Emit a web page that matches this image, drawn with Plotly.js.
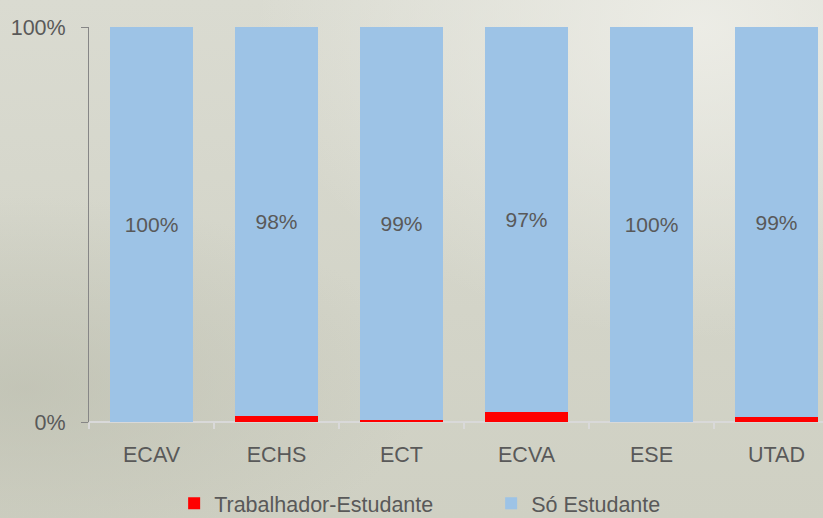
<!DOCTYPE html>
<html>
<head>
<meta charset="utf-8">
<script src="https://cdn.plot.ly/plotly-3.0.1.min.js"></script>
<style>
  html, body { margin: 0; padding: 0; }
  body {
    width: 823px; height: 518px; overflow: hidden;
    background:
      radial-gradient(ellipse at 85% 5%, rgba(238,238,232,0.9) 0%, rgba(238,238,232,0) 45%),
      radial-gradient(ellipse at 3% 75%, rgba(185,187,172,0.6) 0%, rgba(185,187,172,0) 35%),
      linear-gradient(180deg, #dadbd1 0%, #d3d4c8 60%, #cfd0c3 100%);
  }
  #chart { width: 823px; height: 518px; }
</style>
</head>
<body>
<div id="chart"></div>
<script>
const categories = ['ECAV', 'ECHS', 'ECT', 'ECVA', 'ESE', 'UTAD'];
const trabalhadorEstudante = [0, 1.6, 0.6, 2.6, 0, 1.2];
const soEstudante = [100, 98.4, 99.4, 97.4, 100, 98.8];
const yTickVals = [0, 100];
const yTickText = ['0%', '100%'];

const fontFamily = '"Liberation Sans", Arial, sans-serif';
const textGray = '#595959';

const traces = [
  {
    type: 'bar',
    name: 'Trabalhador-Estudante',
    x: categories,
    y: trabalhadorEstudante,
    marker: { color: '#ff0000', line: { width: 0 } },
    hoverinfo: 'skip'
  },
  {
    type: 'bar',
    name: 'Só Estudante',
    x: categories,
    y: soEstudante,
    marker: { color: '#9dc3e6', line: { width: 0 } },
    texttemplate: '%{y:.0f}%',
    textposition: 'inside',
    insidetextanchor: 'middle',
    textangle: 0,
    insidetextfont: { family: fontFamily, size: 21, color: textGray },
    hoverinfo: 'skip'
  }
];

const layout = {
  width: 823,
  height: 518,
  barmode: 'stack',
  bargap: 0.336,
  paper_bgcolor: 'rgba(0,0,0,0)',
  plot_bgcolor: 'rgba(0,0,0,0)',
  margin: { l: 89, r: 0, t: 27, b: 96, autoexpand: false },
  font: { family: fontFamily, size: 21.5, color: textGray },
  showlegend: true,
  legend: {
    orientation: 'h',
    x: 0.116,
    xanchor: 'left',
    y: -0.154,
    yanchor: 'top',
    font: { family: fontFamily, size: 21.5, color: textGray },
    entrywidth: 272,
    traceorder: 'normal',
    bgcolor: 'rgba(0,0,0,0)'
  },
  xaxis: {
    type: 'category',
    range: [-0.5, 5.372],
    showline: false,
    showgrid: false,
    zeroline: false,
    ticks: 'outside',
    tickson: 'boundaries',
    ticklen: 6,
    tickwidth: 2,
    tickcolor: '#d9d9d9',
    ticklabelstandoff: 17,
    tickfont: { family: fontFamily, size: 21.5, color: textGray },
    fixedrange: true
  },
  yaxis: {
    range: [0, 100],
    tickvals: yTickVals,
    ticktext: yTickText,
    showline: true,
    linecolor: '#868686',
    linewidth: 1,
    ticks: 'outside',
    ticklen: 7,
    tickcolor: '#868686',
    showgrid: true,
    gridcolor: '#a6a6a6',
    gridwidth: 2,
    zeroline: true,
    zerolinecolor: '#d9d9d9',
    zerolinewidth: 2,
    ticklabelstandoff: 11,
    tickfont: { family: fontFamily, size: 21.5, color: textGray },
    fixedrange: true
  }
};

Plotly.newPlot('chart', traces, layout, { displayModeBar: false, staticPlot: true });
</script>
</body>
</html>
